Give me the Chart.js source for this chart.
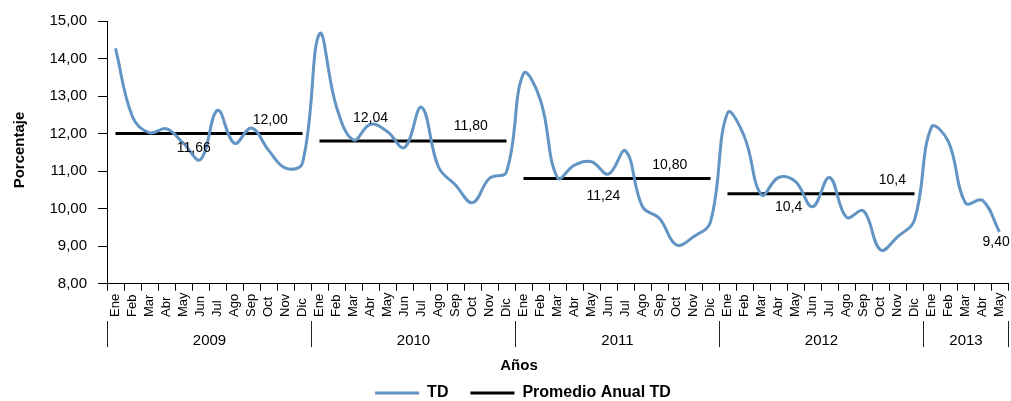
<!DOCTYPE html>
<html>
<head>
<meta charset="utf-8">
<script src="https://cdn.jsdelivr.net/npm/chart.js@4/dist/chart.umd.min.js"></script>
<style>
  html, body { margin:0; padding:0; background:#fff; }
  #wrap { width:1011px; height:401px; }
</style>
</head>
<body>
<div id="wrap"><canvas id="c"></canvas></div>
<script>
// --- datos ---
const nombresMes = ['Ene','Feb','Mar','Abr','May','Jun','Jul','Ago','Sep','Oct','Nov','Dic'];
const anios = ['2009','2010','2011','2012','2013'];
const mesesPorAnio = [12, 12, 12, 12, 5];

const td = [
  14.27, 12.45, 12.02, 12.13, 11.74, 11.31, 12.62, 11.74, 12.15, 11.56, 11.08, 11.22, // 2009
  14.66, 12.71, 11.83, 12.25, 12.05, 11.63, 12.70, 11.11, 10.63, 10.16, 10.81, 10.98, // 2010
  13.60, 12.89, 10.82, 11.16, 11.25, 10.92, 11.54, 10.05, 9.74, 9.03, 9.25, 9.65,     // 2011
  12.55, 11.91, 10.37, 10.83, 10.72, 10.05, 10.83, 9.77, 9.94, 8.90, 9.25, 9.70,      // 2012
  12.17, 11.78, 10.15, 10.22, 9.38                                                     // 2013
];
const promedioAnual = [12.00, 11.80, 10.80, 10.40, null];

// etiquetas de texto sobre el grafico
const etiquetas = ['12,00', '11,66', '12,04', '11,80', '11,24', '10,80', '10,4', '10,4', '9,40'];

// --- armado ---
const meses = [];
const promedio = [];
mesesPorAnio.forEach((n, a) => {
  for (let m = 0; m < n; m++) { meses.push(nombresMes[m]); promedio.push(promedioAnual[a]); }
});

// ubicacion de etiquetas (indice de mes, valor en eje y)
const posEtiquetas = [[9.1, 12.36], [4.6, 11.61], [15.0, 12.41], [20.9, 12.20], [28.7, 10.33],
                      [32.6, 11.16], [39.6, 10.04], [45.7, 10.76], [51.8, 9.11]];

const FONT = '"Liberation Sans", Arial, sans-serif';

const ejes = {
  id: 'ejes',
  afterDraw(chart){
    const ctx = chart.ctx, x = chart.scales.x, y = chart.scales.y;
    ctx.save();
    ctx.fillStyle = '#000';
    // meses
    ctx.font = '13px ' + FONT;
    ctx.textAlign = 'left'; ctx.textBaseline = 'middle';
    meses.forEach((m, i) => {
      ctx.save();
      ctx.translate(x.getPixelForValue(i), 317);
      ctx.rotate(-Math.PI/2);
      ctx.fillText(m, 0, 0);
      ctx.restore();
    });
    // separadores y anios
    ctx.strokeStyle = '#222'; ctx.lineWidth = 1;
    ctx.font = '15px ' + FONT; ctx.textAlign = 'center';
    let ini = 0;
    const sep = i => Math.round(x.getPixelForValue(i - 0.5)) + 0.5;
    mesesPorAnio.forEach((n, a) => {
      ctx.beginPath(); ctx.moveTo(sep(ini), 321); ctx.lineTo(sep(ini), 347); ctx.stroke();
      ctx.fillText(anios[a], (sep(ini) + sep(ini + n)) / 2, 341);
      ini += n;
    });
    ctx.beginPath(); ctx.moveTo(sep(ini), 321); ctx.lineTo(sep(ini), 347); ctx.stroke();
    // titulos
    ctx.font = 'bold 15px ' + FONT;
    ctx.fillText('Años', 519, 366);
    ctx.save();
    ctx.translate(20, 150); ctx.rotate(-Math.PI/2);
    ctx.fillText('Porcentaje', 0, 0);
    ctx.restore();
    // etiquetas
    ctx.font = '14px ' + FONT;
    etiquetas.forEach((t, k) => {
      const [i, v] = posEtiquetas[k];
      ctx.fillText(t, x.getPixelForValue(i), y.getPixelForValue(v));
    });
    ctx.restore();
  }
};

new Chart(document.getElementById('c'), {
  type: 'line',
  data: {
    labels: meses,
    datasets: [
      { label: 'TD', data: td, borderColor: '#6294c4', backgroundColor: '#6294c4',
        borderWidth: 3, pointRadius: 0, pointStyle: 'line', tension: 0.4 },
      { label: 'Promedio Anual TD', data: promedio, borderColor: '#000', backgroundColor: '#000',
        borderWidth: 3, pointRadius: 0, pointStyle: 'line', tension: 0, spanGaps: false,
        segment: { borderColor: c => (c.p0DataIndex % 12 === 11 ? 'rgba(0,0,0,0)' : '#000') } }
    ]
  },
  options: {
    responsive: true, maintainAspectRatio: false, animation: false,
    layout: { padding: { left: 38, right: 3, top: 21, bottom: -10 } },
    plugins: {
      tooltip: { enabled: false },
      legend: {
        position: 'bottom',
        labels: { usePointStyle: true, pointStyleWidth: 44, padding: 22, color: '#000',
                  font: { family: FONT, size: 16, weight: 'bold' } }
      }
    },
    scales: {
      x: {
        offset: true,
        afterFit: s => { s.height = 79.3; },
        border: { color: '#000' },
        grid: { offset: true, drawOnChartArea: false, tickLength: 7, color: '#000' },
        ticks: { display: false, autoSkip: false }
      },
      y: {
        min: 8, max: 15,
        afterFit: s => { s.width = 69; },
        border: { color: '#000' },
        grid: { drawOnChartArea: false, tickLength: 9, color: '#000' },
        ticks: { stepSize: 1, padding: 11, color: '#000', font: { family: FONT, size: 15 },
                 callback: v => v.toFixed(2).replace('.', ',') }
      }
    }
  },
  plugins: [ejes]
});
</script>
</body>
</html>
